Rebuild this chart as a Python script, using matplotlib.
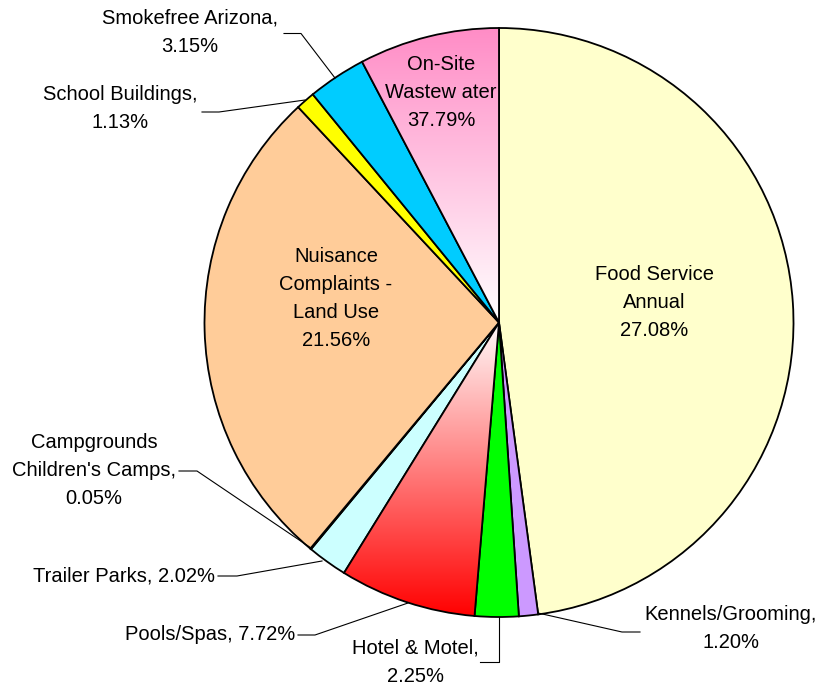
import matplotlib
matplotlib.use('Agg')
import matplotlib.pyplot as plt
import numpy as np
from matplotlib.colors import LinearSegmentedColormap

# ---- data ----
categories = ["Food Service Annual", "Kennels/Grooming", "Hotel & Motel", "Pools/Spas",
              "Trailer Parks", "Campgrounds Children's Camps", "Nuisance Complaints - Land Use",
              "School Buildings", "Smokefree Arizona", "On-Site Wastewater"]
shares = [47.9, 1.05, 2.4, 7.5, 2.2, 0.05, 27.0, 1.05, 3.2, 7.7]
pct_labels = ["27.08%", "1.20%", "2.25%", "7.72%", "2.02%", "0.05%", "21.56%", "1.13%", "3.15%", "37.79%"]
label_texts = ["Food Service\nAnnual", "Kennels/Grooming,", "Hotel & Motel,", "Pools/Spas,",
               "Trailer Parks,", "Campgrounds\nChildren's Camps,", "Nuisance\nComplaints -\nLand Use",
               "School Buildings,", "Smokefree Arizona,", "On-Site\nWastew ater"]
colors = ["#FFFFCC", "#CC99FF", "#00FF00", "#FF0000", "#CCFFFF", "#9999FF", "#FFCC99",
          "#FFFF00", "#00CCFF", "#FF8CC6"]

plt.rcParams['font.family'] = ['Liberation Sans', 'DejaVu Sans']
FS = 14.5

W, H = 822, 687
fig = plt.figure(figsize=(W / 100, H / 100), dpi=100)
ax = fig.add_axes([0, 0, 1, 1])

cx, cy, R = 499, 322.5, 294.5
wedges, _ = ax.pie(shares, center=(cx, cy), radius=R, startangle=-90, counterclock=True,
                   colors=colors, wedgeprops=dict(edgecolor='black', linewidth=1.3),
                   frame=False)
ax.set_xlim(0, W)
ax.set_ylim(H, 0)

# gradient fills
def grad_fill(w, c_start, c_end, y0, y1):
    cmap = LinearSegmentedColormap.from_list('g', [c_start, c_end])
    arr = np.linspace(0, 1, 256).reshape(-1, 1)
    im = ax.imshow(arr, cmap=cmap, extent=[cx - R, cx + R, y0, y1], origin='lower',
                   aspect='auto', zorder=1.5, interpolation='bilinear')
    im.set_clip_path(w)
    w.set_facecolor('none')
    w.set_zorder(2)

grad_fill(wedges[3], "#FFFAFA", "#FF0000", cy, cy + R)
grad_fill(wedges[9], "#FFFFFF", "#FF8CC6", cy, cy - R)

ax.set_xlim(0, W)
ax.set_ylim(H, 0)
ax.set_aspect('equal')
ax.axis('off')

LS = 1.6
# inside labels
inside = {0: (654, 303), 6: (336, 299), 9: (441, 92)}
for i, (x, y) in inside.items():
    ax.text(x, y, label_texts[i] + "\n" + pct_labels[i], ha='center', va='center',
            multialignment='center', fontsize=FS, linespacing=LS, zorder=5)

# outside labels: text position, alignment, leader points
outside = {
    8: ((190, 32), 'center', label_texts[8] + "\n" + pct_labels[8], [(284, 33.5), (301, 33.5), (335, 78)]),
    7: ((120, 109), 'center', label_texts[7] + "\n" + pct_labels[7], [(202, 112), (219, 112), (305, 100)]),
    5: ((94, 470), 'center', label_texts[5] + "\n" + pct_labels[5], [(179, 471), (197, 471), (311, 548)]),
    4: ((215, 576), 'right', label_texts[4] + " " + pct_labels[4], [(218, 576), (237, 576), (322, 561)]),
    3: ((295, 635), 'right', label_texts[3] + " " + pct_labels[3], [(298, 635), (315, 635), (408, 603)]),
    2: ((415, 662), 'center', label_texts[2] + "\n" + pct_labels[2], [(480, 662), (499, 662), (499, 617)]),
    1: ((731, 628), 'center', label_texts[1] + "\n" + pct_labels[1], [(640, 632), (622, 632), (538, 613)]),
}
for i, ((x, y), ha, txt, pts) in outside.items():
    ax.text(x, y, txt, ha=ha, va='center', multialignment='center', fontsize=FS,
            linespacing=LS, zorder=5)
    xs, ys = zip(*pts)
    ax.plot(xs, ys, color='black', linewidth=0.8, zorder=4)

fig.savefig('out.png', dpi=100, facecolor='white')
